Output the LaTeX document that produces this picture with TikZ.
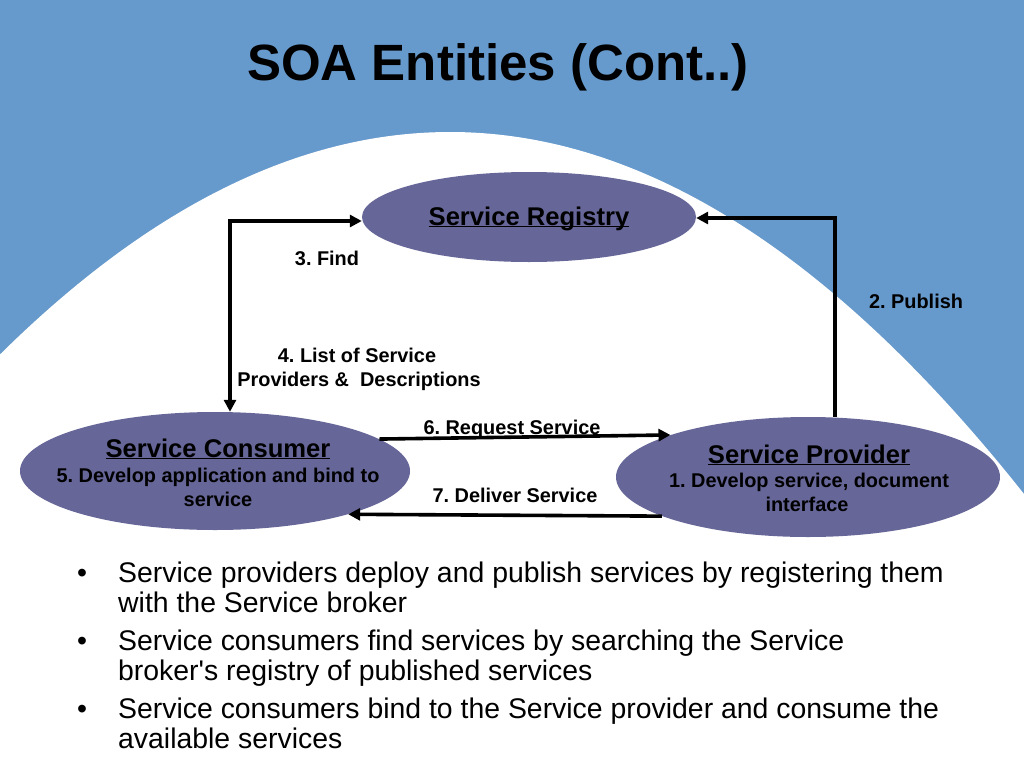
\documentclass[tikz,border=0pt]{standalone}
\usepackage{fontspec}
\setmainfont{Liberation Sans}[Ligatures=ResetAll]
\usetikzlibrary{shapes.geometric,arrows.meta}
\definecolor{bgblue}{RGB}{102,153,204}
\definecolor{ellfill}{RGB}{102,102,153}
\newcommand\ulsm[1]{\underline{\smash{#1}}}
\frenchspacing
\tikzset{
  ent/.style={ellipse, fill=ellfill, draw=none, inner sep=0pt},
  headtxt/.style={font=\bfseries\fontsize{25.6}{30}\selectfont, anchor=base, inner sep=0pt},
  subtxt/.style={font=\bfseries\fontsize{19.9}{23}\selectfont, anchor=base, inner sep=0pt},
  lbl/.style={font=\bfseries\fontsize{19.9}{23}\selectfont, anchor=base, inner sep=0pt},
  bul/.style={font=\fontsize{28.4}{30}\selectfont, anchor=base west, inner sep=0pt},
  dot/.style={font=\fontsize{28.4}{30}\selectfont, anchor=base, inner sep=0pt},
  arr/.style={line width=3.6pt, -{Triangle[length=12pt,width=12pt]}},
}
\begin{document}
\begin{tikzpicture}[x=1pt,y=-1pt]
\useasboundingbox (0,0) rectangle (1024,768);
% background
\fill[bgblue] (0,0) rectangle (1024,768);
\fill[white] plot[domain=0:1024, samples=120] (\x,{132+0.0011*(\x-450)*(\x-450)}) -- (1024,768) -- (0,768) -- cycle;
% title
\node[font=\bfseries\fontsize{51}{60}\selectfont, anchor=base, inner sep=0pt] (title) at (498,80) {SOA Entities (Cont..)};
% entities
\node[ent, minimum width=334pt, minimum height=90pt] (registry) at (529,217) {};
\node[ent, minimum width=390pt, minimum height=118pt] (consumer) at (215,471) {};
\node[ent, minimum width=384pt, minimum height=120pt] (provider) at (808,477) {};
% entity texts
\node[headtxt] (regT) at (529,225) {\ulsm{Service Registry}};
\node[headtxt] (conT) at (218,457) {\ulsm{Service Consumer}};
\node[subtxt] (conS1) at (218,482) {5. Develop application and bind to};
\node[subtxt] (conS2) at (218,506) {service};
\node[headtxt] (proT) at (809,463) {\ulsm{Service Provider}};
\node[subtxt] (proS1) at (809,487) {1. Develop service, document};
\node[subtxt] (proS2) at (807,511) {interface};
% connectors
\draw[arr, {Triangle[length=12pt,width=12pt]}-{Triangle[length=12pt,width=12pt]}] ([xshift=15pt]consumer.north) |- ([yshift=-4pt]registry.west);
\draw[arr] ([xshift=27pt]provider.north) |- ([yshift=-1pt]registry.east);
\draw[arr] (consumer.11) -- (provider.163);
\draw[arr] (provider.195) -- (consumer.342);
% connector labels
\node[lbl] (find) at (327,265) {3. Find};
\node[lbl] (publish) at (916,308) {2. Publish};
\node[lbl] (list1) at (357,362) {4. List of Service};
\node[lbl] (list2) at (359,386) {Providers \&\ \ Descriptions};
\node[lbl] (request) at (512,434) {6. Request Service};
\node[lbl] (deliver) at (515,502) {7. Deliver Service};
% bullets
\node[dot] (d1) at (82,582) {•};
\node[bul] (b1a) at (118,582) {Service providers deploy and publish services by registering them};
\node[bul] (b1b) at (118,612) {with the Service broker};
\node[dot] (d2) at (82,650) {•};
\node[bul] (b2a) at (118,650) {Service consumers find services by searching the Service};
\node[bul] (b2b) at (118,680) {broker\textquotesingle s registry of published services};
\node[dot] (d3) at (82,718) {•};
\node[bul] (b3a) at (118,718) {Service consumers bind to the Service provider and consume the};
\node[bul] (b3b) at (118,748) {available services};
\end{tikzpicture}
\end{document}
